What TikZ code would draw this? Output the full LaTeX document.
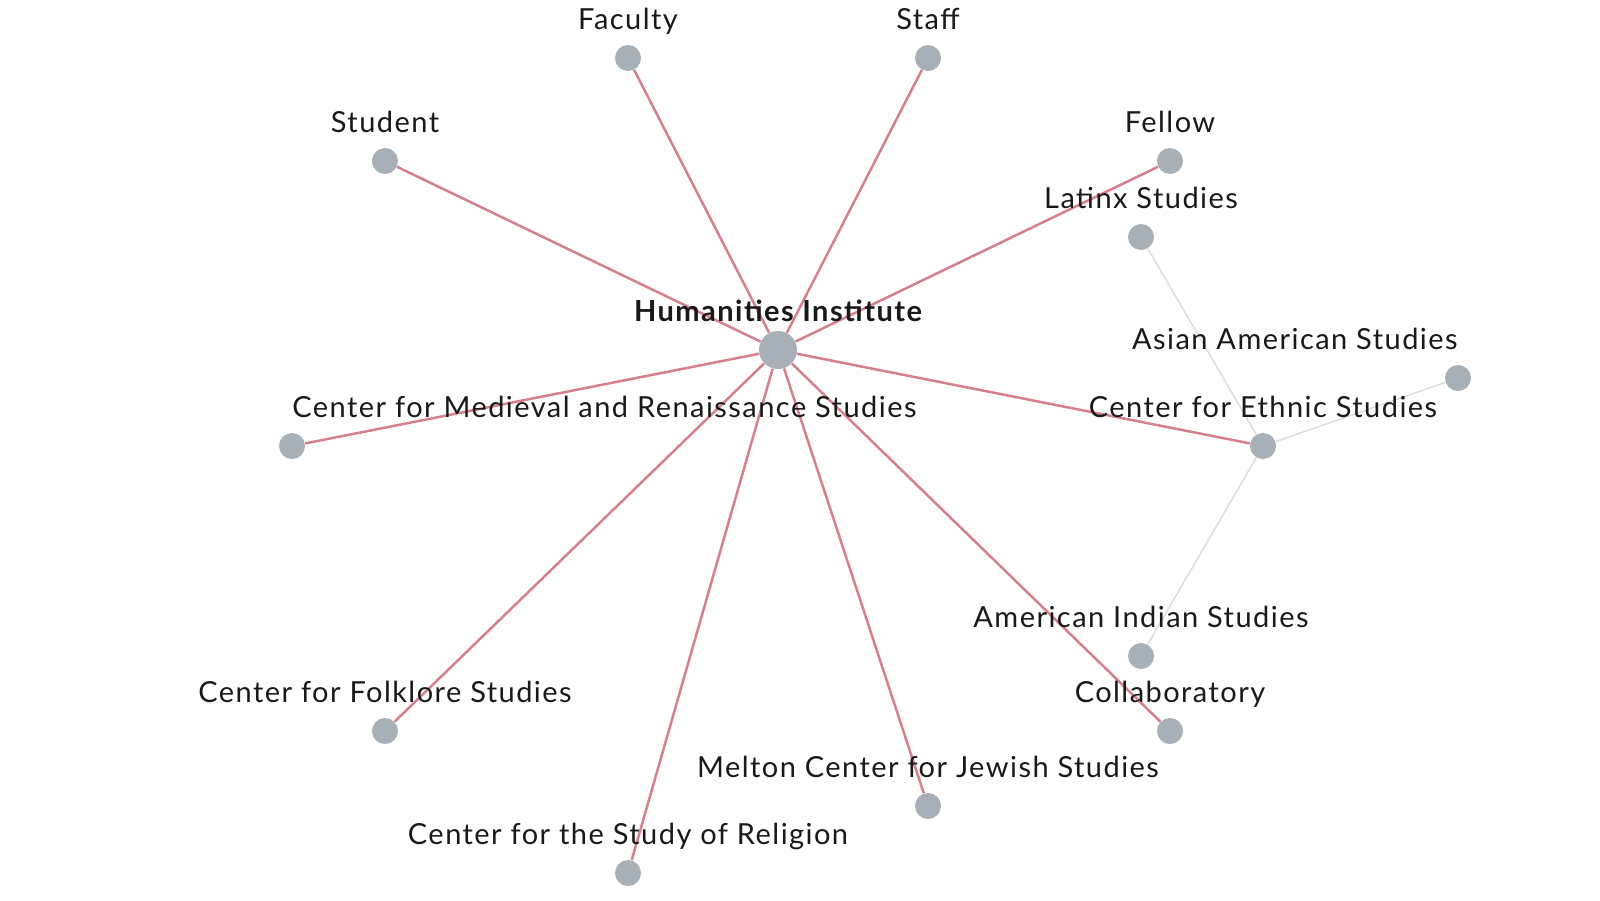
\documentclass[tikz,border=0pt]{standalone}
\usepackage{fontspec}
\setmainfont[LetterSpace=5]{Lato}
\usepackage{tikz}
\usetikzlibrary{calc}
\definecolor{dotgray}{RGB}{167,176,182}
\definecolor{linkred}{RGB}{214,128,142}
\definecolor{linkgray}{RGB}{221,221,221}
\tikzset{
    dot/.style={circle,fill=dotgray,inner sep=0pt,minimum size=13pt},
    hub/.style={circle,fill=dotgray,inner sep=0pt,minimum size=19pt},
    lbl/.style={anchor=base,inner sep=0pt,text=black!90,
        font=\fontsize{14.5}{17}\selectfont},
    redlink/.style={linkred,line width=1.25pt},
    graylink/.style={linkgray,line width=0.75pt}
}
\begin{document}
\begin{tikzpicture}[x=0.5pt,y=-0.5pt]
        \useasboundingbox (0,0) rectangle (1600,900);
        \node[hub] (hi) at (778,350) {};
        \foreach \n/\x/\y in {fac/628/58, sta/928/58, stu/385/161, fel/1170/161,
            lat/1141/237, asi/1458/378, eth/1263/446, med/292/446, fol/385/731,
            rel/628/873, mel/928/806, col/1170/731, ami/1141/656}
        \node[dot] (\n) at (\x,\y) {};
        \foreach \n in {fac, sta, stu, fel, med, eth, fol, rel, mel, col}
        \draw[redlink] (hi) -- (\n);
        \foreach \n in {lat, asi, ami}
        \draw[graylink] (eth) -- (\n);
        % labels
        \node[lbl,font=\fontsize{14.5}{17}\selectfont\bfseries] (hi-l) at ([yshift=14.5pt]hi.center) {Humanities Institute};
        \foreach \n/\t in {fac/Faculty, sta/Staff, stu/Student, fel/Fellow,
            lat/Latinx Studies, eth/Center for Ethnic Studies,
            fol/Center for Folklore Studies, rel/Center for the Study of Religion,
            mel/Melton Center for Jewish Studies, col/Collaboratory,
            ami/American Indian Studies}
        \node[lbl] (\n-l) at ([yshift=14.5pt]\n.center) {\t};
        \node[lbl,anchor=base west] (med-l) at ([yshift=14.5pt]med.center) {Center for Medieval and Renaissance Studies};
        \node[lbl,anchor=base east] (asi-l) at ([yshift=14.5pt]asi.center) {Asian American Studies};
    \end{tikzpicture}
\end{document}
